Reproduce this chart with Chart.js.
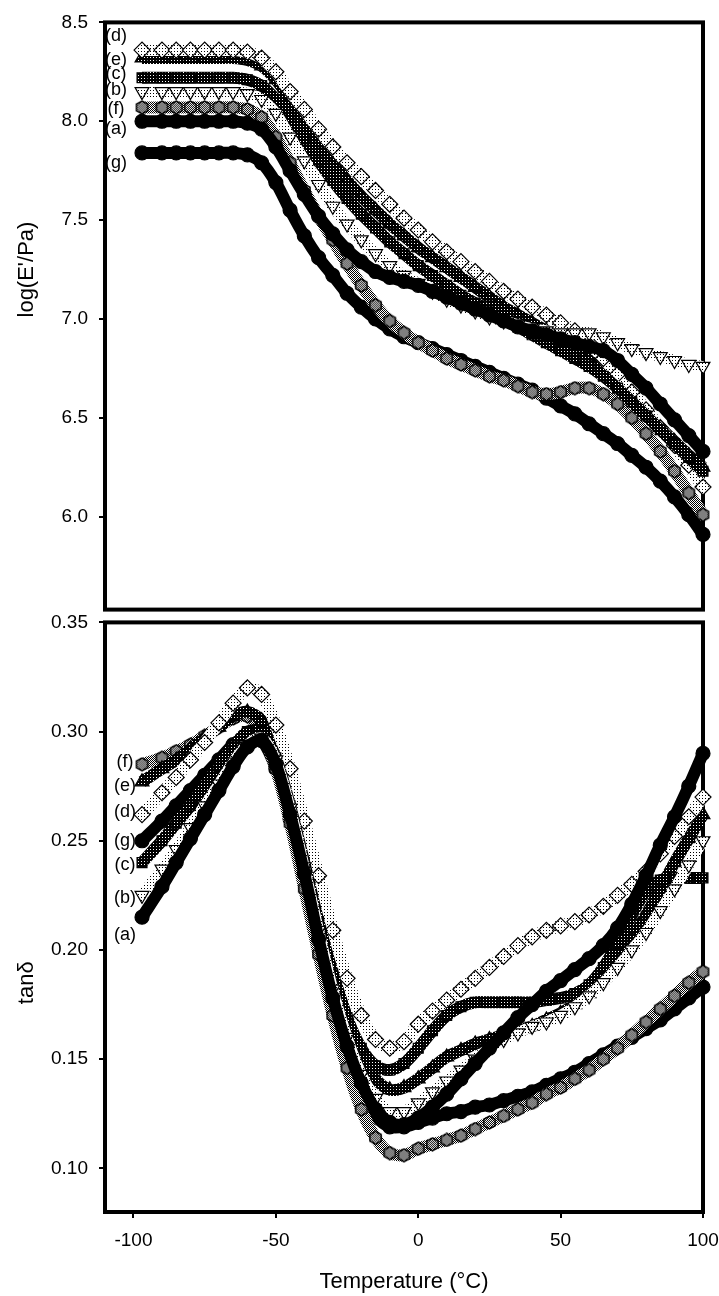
<!DOCTYPE html>
<html>
<head>
<meta charset="utf-8">
<script src="https://cdn.jsdelivr.net/npm/chart.js@4.4.1/dist/chart.umd.min.js"></script>
<style>
  html, body { margin: 0; padding: 0; background: #fff; }
  #wrap { position: relative; width: 719px; height: 1296px; overflow: hidden; }
  #top { position: absolute; left: 0; top: 0; }
  #bot { position: absolute; left: 0; top: 600px; }
</style>
</head>
<body>
<div id="wrap">
  <canvas id="top" width="719" height="632"></canvas>
  <canvas id="bot" width="719" height="696"></canvas>
</div>
<script>
// temperature steps (deg C), shared by every curve
const temps = [-97, -90, -85, -80, -75, -70, -65, -60, -55, -50, -45, -40, -35, -30, -25, -20, -15, -10, -5,
  0, 5, 10, 15, 20, 25, 30, 35, 40, 45, 50, 55, 60, 65, 70, 75, 80, 85, 90, 95, 100];

const letters = ['a', 'b', 'c', 'd', 'e', 'f', 'g'];
const xTicks = [-100, -50, 0, 50, 100];
const eTicks = [6.0, 6.5, 7.0, 7.5, 8.0, 8.5];
const tanTicks = [0.10, 0.15, 0.20, 0.25, 0.30, 0.35];

// log(E'/Pa)
const eA = [8.00, 8.00, 8.00, 8.00, 8.00, 8.00, 8.00, 7.99, 7.96, 7.87, 7.75, 7.63, 7.52, 7.43, 7.35, 7.29, 7.24, 7.21, 7.19,
  7.17, 7.14, 7.11, 7.08, 7.05, 7.02, 6.99, 6.96, 6.94, 6.92, 6.90, 6.88, 6.86, 6.84, 6.79, 6.72, 6.65, 6.57, 6.49, 6.41, 6.33];
const eB = [8.15, 8.15, 8.15, 8.15, 8.15, 8.15, 8.15, 8.14, 8.11, 8.04, 7.92, 7.80, 7.68, 7.57, 7.48, 7.40, 7.33, 7.27, 7.22,
  7.18, 7.14, 7.10, 7.07, 7.04, 7.01, 6.99, 6.97, 6.95, 6.94, 6.93, 6.93, 6.93, 6.91, 6.88, 6.85, 6.83, 6.81, 6.79, 6.77, 6.76];
const eC = [8.22, 8.22, 8.22, 8.22, 8.22, 8.22, 8.22, 8.21, 8.18, 8.11, 8.02, 7.91, 7.80, 7.70, 7.61, 7.53, 7.46, 7.39, 7.33,
  7.27, 7.22, 7.17, 7.12, 7.08, 7.04, 7.00, 6.96, 6.92, 6.88, 6.84, 6.80, 6.76, 6.71, 6.65, 6.58, 6.51, 6.44, 6.37, 6.30, 6.23];
const eD = [8.36, 8.36, 8.36, 8.36, 8.36, 8.36, 8.36, 8.35, 8.32, 8.25, 8.15, 8.06, 7.96, 7.87, 7.79, 7.72, 7.65, 7.58, 7.51,
  7.45, 7.39, 7.34, 7.29, 7.24, 7.19, 7.14, 7.10, 7.06, 7.02, 6.98, 6.94, 6.88, 6.80, 6.72, 6.63, 6.54, 6.45, 6.36, 6.26, 6.15];
const eE = [8.32, 8.32, 8.32, 8.32, 8.32, 8.32, 8.32, 8.31, 8.28, 8.21, 8.11, 8.00, 7.89, 7.79, 7.70, 7.62, 7.55, 7.48, 7.42,
  7.36, 7.31, 7.26, 7.21, 7.16, 7.11, 7.06, 7.02, 6.98, 6.94, 6.90, 6.86, 6.81, 6.75, 6.68, 6.61, 6.53, 6.45, 6.38, 6.31, 6.25];
const eF = [8.07, 8.07, 8.07, 8.07, 8.07, 8.07, 8.07, 8.06, 8.02, 7.92, 7.79, 7.65, 7.52, 7.40, 7.28, 7.17, 7.07, 6.99, 6.93,
  6.88, 6.84, 6.80, 6.77, 6.74, 6.71, 6.69, 6.66, 6.63, 6.62, 6.63, 6.65, 6.65, 6.62, 6.57, 6.50, 6.42, 6.33, 6.23, 6.12, 6.01];
const eG = [7.84, 7.84, 7.84, 7.84, 7.84, 7.84, 7.84, 7.83, 7.79, 7.69, 7.55, 7.42, 7.31, 7.22, 7.13, 7.06, 7.00, 6.95, 6.91,
  6.88, 6.85, 6.82, 6.79, 6.76, 6.73, 6.70, 6.67, 6.64, 6.60, 6.56, 6.52, 6.47, 6.42, 6.37, 6.31, 6.25, 6.18, 6.10, 6.01, 5.91];

// tan delta
const tA = [0.215, 0.229, 0.240, 0.251, 0.262, 0.273, 0.284, 0.293, 0.296, 0.285, 0.262, 0.235, 0.205, 0.178, 0.156, 0.139, 0.127, 0.121, 0.120,
  0.123, 0.128, 0.134, 0.141, 0.148, 0.155, 0.162, 0.169, 0.175, 0.181, 0.186, 0.191, 0.196, 0.202, 0.210, 0.221, 0.234, 0.248, 0.261, 0.275, 0.290];
const tB = [0.225, 0.237, 0.246, 0.256, 0.266, 0.276, 0.286, 0.294, 0.297, 0.287, 0.265, 0.238, 0.209, 0.182, 0.160, 0.143, 0.132, 0.126, 0.126,
  0.130, 0.135, 0.140, 0.145, 0.150, 0.155, 0.159, 0.162, 0.165, 0.167, 0.170, 0.174, 0.179, 0.185, 0.192, 0.200, 0.208, 0.218, 0.228, 0.239, 0.250];
const tC = [0.240, 0.250, 0.258, 0.266, 0.275, 0.284, 0.293, 0.300, 0.300, 0.288, 0.266, 0.240, 0.213, 0.189, 0.169, 0.155, 0.147, 0.145, 0.148,
  0.155, 0.163, 0.170, 0.174, 0.176, 0.176, 0.176, 0.176, 0.176, 0.177, 0.178, 0.180, 0.184, 0.192, 0.203, 0.216, 0.227, 0.232, 0.233, 0.233, 0.233];
const tD = [0.262, 0.272, 0.279, 0.287, 0.295, 0.304, 0.313, 0.320, 0.317, 0.303, 0.283, 0.259, 0.234, 0.209, 0.187, 0.170, 0.159, 0.155, 0.158,
  0.166, 0.172, 0.177, 0.182, 0.187, 0.192, 0.197, 0.202, 0.206, 0.209, 0.211, 0.213, 0.216, 0.220, 0.225, 0.230, 0.236, 0.244, 0.252, 0.261, 0.270];
const tE = [0.277, 0.283, 0.287, 0.292, 0.297, 0.302, 0.307, 0.309, 0.305, 0.290, 0.268, 0.242, 0.215, 0.190, 0.169, 0.152, 0.141, 0.136, 0.137,
  0.141, 0.146, 0.151, 0.154, 0.157, 0.159, 0.161, 0.163, 0.165, 0.168, 0.171, 0.175, 0.180, 0.187, 0.195, 0.205, 0.216, 0.228, 0.240, 0.251, 0.262];
const tF = [0.285, 0.288, 0.291, 0.294, 0.298, 0.302, 0.306, 0.307, 0.300, 0.283, 0.258, 0.228, 0.198, 0.170, 0.146, 0.127, 0.114, 0.107, 0.106,
  0.109, 0.111, 0.113, 0.115, 0.118, 0.121, 0.124, 0.127, 0.130, 0.134, 0.137, 0.141, 0.145, 0.150, 0.155, 0.161, 0.167, 0.173, 0.179, 0.185, 0.190];
const tG = [0.250, 0.259, 0.266, 0.273, 0.280, 0.287, 0.294, 0.298, 0.296, 0.283, 0.260, 0.232, 0.203, 0.175, 0.152, 0.135, 0.124, 0.119, 0.119,
  0.121, 0.123, 0.125, 0.126, 0.128, 0.129, 0.131, 0.133, 0.135, 0.138, 0.141, 0.144, 0.148, 0.152, 0.156, 0.160, 0.164, 0.168, 0.173, 0.178, 0.183];

// where the (a)..(g) tags and the axis names sit, in axis units
const eTagAt = [7.96, 8.16, 8.24, 8.43, 8.31, 8.06, 7.79];
const tanTagAt = [0.207, 0.224, 0.239, 0.263, 0.275, 0.286, 0.250];
const eTitleAt = 7.25;
const tanTitleAt = 0.185;

Chart.defaults.font.family = '"Liberation Sans", Arial, sans-serif';
Chart.defaults.font.size = 19;
Chart.defaults.color = '#000';

// little dotted fills, like the hatched symbols of the print
function dots(bg, fg, n) {
  const c = document.createElement('canvas');
  c.width = c.height = n;
  const g = c.getContext('2d');
  g.fillStyle = bg; g.fillRect(0, 0, n, n);
  g.fillStyle = fg; g.fillRect(0, 0, 1, 1);
  if (n === 2) g.fillRect(1, 1, 1, 1);
  return g.createPattern(c, 'repeat');
}
const light = dots('#fff', '#000', 3);
const dark = dots('#000', '#fff', 3);
const grey = dots('#fff', '#000', 2);

function hexagon(size) {
  const c = document.createElement('canvas');
  c.width = c.height = size;
  const g = c.getContext('2d');
  const r = size / 2 - 1;
  g.beginPath();
  for (let k = 0; k < 6; k++) {
    const a = Math.PI / 6 + k * Math.PI / 3;
    g.lineTo(size / 2 + r * Math.cos(a), size / 2 + r * Math.sin(a));
  }
  g.closePath();
  g.fillStyle = grey; g.fill();
  g.lineWidth = 1.5; g.strokeStyle = '#000'; g.stroke();
  return c;
}

const styles = {
  a: { pointStyle: 'circle', pointRadius: 7, pointBackgroundColor: '#000', borderColor: '#000', borderWidth: 12 },
  b: { pointStyle: 'triangle', rotation: 180, pointRadius: 8, pointBackgroundColor: light, borderColor: light, borderWidth: 11 },
  c: { pointStyle: 'rect', pointRadius: 7, pointBackgroundColor: dark, borderColor: dark, borderWidth: 12 },
  d: { pointStyle: 'rectRot', pointRadius: 8, pointBackgroundColor: light, borderColor: light, borderWidth: 12 },
  e: { pointStyle: 'triangle', pointRadius: 8, pointBackgroundColor: dark, borderColor: dark, borderWidth: 12 },
  f: { pointStyle: hexagon(15), pointRadius: 7, pointBackgroundColor: grey, borderColor: grey, borderWidth: 12 },
  g: { pointStyle: 'circle', pointRadius: 7, pointBackgroundColor: '#000', borderColor: '#000', borderWidth: 12 }
};

function makeSets(series) {
  return letters.map((k, i) => Object.assign({
    label: '(' + k + ')',
    data: temps.map((t, j) => ({ x: t, y: series[i][j] })),
    pointBorderColor: '#000',
    pointBorderWidth: 1.2,
    clip: false,
    tension: 0.3
  }, styles[k]));
}

const frame = {
  id: 'frame',
  beforeDatasetsDraw(chart) {
    const { ctx, chartArea: a } = chart;
    ctx.save();
    ctx.lineWidth = 4;
    ctx.strokeStyle = '#000';
    ctx.strokeRect(a.left, a.top, a.right - a.left, a.bottom - a.top);
    ctx.restore();
  }
};

// (a)..(g) tags at the left end of the curves, and the rotated y-axis name
const tags = {
  id: 'tags',
  afterDraw(chart, args, opts) {
    const ctx = chart.ctx;
    const y = chart.scales.y;
    ctx.save();
    ctx.fillStyle = '#000';
    ctx.textAlign = 'center';
    ctx.textBaseline = 'middle';
    ctx.font = '18px "Liberation Sans", Arial, sans-serif';
    letters.forEach((k, i) => ctx.fillText('(' + k + ')', opts.x, y.getPixelForValue(opts.at[i])));
    ctx.translate(27, y.getPixelForValue(opts.titleAt));
    ctx.rotate(-Math.PI / 2);
    ctx.font = '22px "Liberation Sans", Arial, sans-serif';
    ctx.fillText(opts.title, 0, 0);
    ctx.restore();
  }
};

function yAxis(min, max, ticks, digits) {
  return {
    type: 'linear', min: min, max: max,
    afterBuildTicks: s => { s.ticks = ticks.map(v => ({ value: v })); },
    afterFit: s => { s.width = 105; },
    border: { display: false },
    grid: { drawOnChartArea: false, drawTicks: true, tickLength: 6, color: '#000', lineWidth: 2 },
    ticks: { padding: 11, callback: v => v.toFixed(digits) }
  };
}

const common = {
  responsive: false,
  animation: false,
  events: [],
  plugins: { legend: { display: false }, tooltip: { enabled: false } }
};

new Chart(document.getElementById('top'), {
  type: 'line',
  data: { datasets: makeSets([eA, eB, eC, eD, eE, eF, eG]) },
  options: Object.assign({}, common, {
    layout: { padding: { top: 19, right: 16, bottom: 15, left: 0 } },
    plugins: Object.assign({}, common.plugins, {
      tags: { at: eTagAt, x: 116, title: "log(E'/Pa)", titleAt: eTitleAt }
    }),
    scales: {
      x: { type: 'linear', min: -110, max: 100, display: false },
      y: yAxis(5.53, 8.5, eTicks, 1)
    }
  }),
  plugins: [frame, tags]
});

new Chart(document.getElementById('bot'), {
  type: 'line',
  data: { datasets: makeSets([tA, tB, tC, tD, tE, tF, tG]) },
  options: Object.assign({}, common, {
    layout: { padding: { top: 17, right: 16, bottom: 0, left: 0 } },
    plugins: Object.assign({}, common.plugins, {
      tags: { at: tanTagAt, x: 125, title: 'tanδ', titleAt: tanTitleAt }
    }),
    scales: {
      x: {
        type: 'linear', min: -110, max: 100,
        afterBuildTicks: s => { s.ticks = xTicks.map(v => ({ value: v })); },
        afterFit: s => { s.height = 84; s.paddingLeft = 0; s.paddingRight = 0; },
        border: { display: false },
        grid: { drawOnChartArea: false, drawTicks: true, tickLength: 6, color: '#000', lineWidth: 2 },
        ticks: { padding: 11, maxRotation: 0 },
        title: { display: true, text: 'Temperature (°C)', font: { size: 22 }, padding: { top: 0, bottom: 1 } }
      },
      y: yAxis(0.08, 0.35, tanTicks, 2)
    }
  }),
  plugins: [frame, tags]
});
</script>
</body>
</html>
